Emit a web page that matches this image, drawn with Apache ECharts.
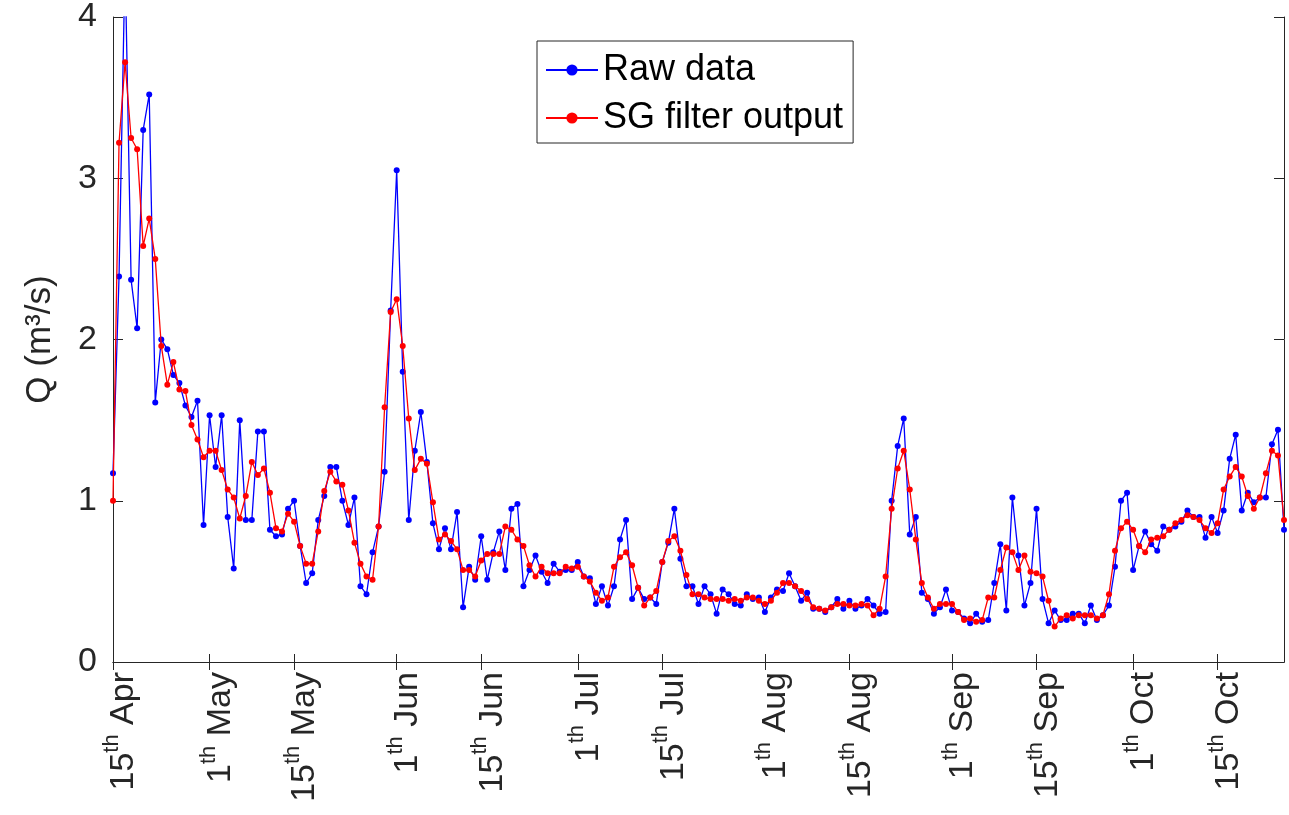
<!DOCTYPE html>
<html>
<head>
<meta charset="utf-8">
<script src="https://cdn.jsdelivr.net/npm/echarts@6/dist/echarts.min.js"></script>
<style>
html,body{margin:0;padding:0;background:#fff;}
#chart{width:1289px;height:815px;}
</style>
</head>
<body>
<div id="chart"></div>
<script>
// Daily series, day 0 = 15th April
const rawData = [
 1.17,2.39,4.35,2.37,2.07,3.30,3.52,1.61,2.00,1.94,
 1.78,1.73,1.59,1.52,1.62,0.85,1.53,1.21,1.53,0.90,
 0.58,1.50,0.88,0.88,1.43,1.43,0.82,0.78,0.79,0.95,
 1.00,0.72,0.49,0.55,0.88,1.03,1.21,1.21,1.00,0.85,
 1.02,0.47,0.42,0.68,0.84,1.18,2.18,3.05,1.80,0.88,
 1.31,1.55,1.24,0.86,0.70,0.83,0.70,0.93,0.34,0.59,
 0.51,0.78,0.51,0.68,0.81,0.57,0.95,0.98,0.47,0.57,
 0.66,0.56,0.49,0.61,0.56,0.57,0.57,0.62,0.53,0.52,
 0.36,0.47,0.35,0.47,0.76,0.88,0.39,0.46,0.39,0.40,
 0.36,0.62,0.74,0.95,0.64,0.47,0.47,0.36,0.47,0.42,
 0.30,0.45,0.42,0.36,0.35,0.42,0.39,0.40,0.31,0.40,
 0.45,0.44,0.55,0.47,0.38,0.43,0.33,0.33,0.31,0.34,
 0.39,0.33,0.38,0.33,0.35,0.39,0.35,0.30,0.31,1.00,
 1.34,1.51,0.79,0.90,0.43,0.39,0.30,0.34,0.45,0.32,
 0.31,0.27,0.24,0.30,0.25,0.26,0.49,0.73,0.32,1.02,
 0.66,0.35,0.49,0.95,0.39,0.24,0.32,0.26,0.26,0.30,
 0.30,0.24,0.35,0.26,0.29,0.35,0.59,1.00,1.05,0.57,
 0.72,0.81,0.73,0.69,0.84,0.82,0.84,0.87,0.94,0.90,
 0.90,0.77,0.90,0.80,0.94,1.26,1.41,0.94,1.05,0.99,
 1.02,1.02,1.35,1.44,0.82
];
const sgData = [
 1.00,3.22,3.72,3.25,3.18,2.58,2.75,2.50,1.96,1.72,
 1.86,1.69,1.68,1.47,1.38,1.27,1.31,1.31,1.19,1.07,
 1.02,0.89,1.03,1.24,1.16,1.20,1.05,0.83,0.81,0.92,
 0.87,0.72,0.61,0.61,0.81,1.06,1.18,1.12,1.10,0.94,
 0.74,0.61,0.53,0.51,0.84,1.58,2.17,2.25,1.96,1.51,
 1.19,1.26,1.23,0.99,0.76,0.79,0.75,0.70,0.57,0.57,
 0.53,0.63,0.67,0.67,0.67,0.84,0.82,0.76,0.72,0.60,
 0.53,0.59,0.55,0.55,0.55,0.59,0.58,0.59,0.53,0.50,
 0.43,0.38,0.40,0.59,0.65,0.68,0.60,0.46,0.35,0.40,
 0.44,0.62,0.75,0.78,0.69,0.54,0.42,0.42,0.40,0.39,
 0.39,0.39,0.38,0.39,0.38,0.40,0.40,0.38,0.36,0.38,
 0.43,0.49,0.49,0.47,0.44,0.39,0.34,0.33,0.32,0.34,
 0.36,0.36,0.35,0.35,0.36,0.35,0.29,0.33,0.53,0.95,
 1.20,1.31,1.07,0.76,0.49,0.40,0.33,0.36,0.36,0.36,
 0.31,0.26,0.27,0.25,0.26,0.40,0.40,0.57,0.71,0.68,
 0.57,0.66,0.56,0.55,0.53,0.38,0.22,0.27,0.29,0.27,
 0.29,0.29,0.29,0.27,0.29,0.42,0.69,0.83,0.87,0.82,
 0.72,0.68,0.76,0.77,0.78,0.82,0.86,0.88,0.91,0.90,
 0.88,0.83,0.80,0.86,1.07,1.15,1.21,1.15,1.03,0.95,
 1.02,1.17,1.31,1.28,0.88
];
const tickDays   = [0,16,30,47,61,77,91,108,122,139,153,169,183];
const tickNums   = ['15','1','15','1','15','1','15','1','15','1','15','1','15'];
const tickMonths = ['Apr','May','May','Jun','Jun','Jul','Jul','Aug','Aug','Sep','Sep','Oct','Oct'];
const yTicks = [0,1,2,3,4];

const days = rawData.map((_, i) => String(i));
const FONT = "'Liberation Sans', Arial, Helvetica, sans-serif";
const AX = '#262626';
const FS = 34;
const isTick = (idx) => tickDays.indexOf(idx) >= 0;

const chart = echarts.init(document.getElementById('chart'), null, {renderer: 'canvas'});
chart.setOption({
  animation: false,
  backgroundColor: '#ffffff',
  grid: {left: 113, top: 16, width: 1171, height: 646, containLabel: false},
  legend: {
    orient: 'vertical',
    left: 537, top: 41,
    padding: [10, 10, 6, 8],
    itemWidth: 52, itemHeight: 14, itemGap: 10,
    backgroundColor: '#ffffff',
    borderColor: AX, borderWidth: 1, borderRadius: 0,
    textStyle: {fontFamily: FONT, fontSize: 36, color: '#000', lineHeight: 38},
    data: ['Raw data', 'SG filter output']
  },
  xAxis: [{
    type: 'category', data: days, boundaryGap: false,
    axisLine: {show: true, lineStyle: {color: AX, width: 1}},
    axisTick: {show: true, inside: true, length: 8, interval: (i) => isTick(i), lineStyle: {color: AX}},
    axisLabel: {
      show: true, rotate: 90, margin: 10, interval: (i) => isTick(i),
      padding: [16, 0, 0, 0],
      formatter: (v) => {
        const k = tickDays.indexOf(Number(v));
        if (k < 0) return '';
        return '{n|' + tickNums[k] + '}{s|th}{n| ' + tickMonths[k] + '}';
      },
      rich: {
        n: {fontFamily: FONT, fontSize: FS, color: AX, lineHeight: 40, verticalAlign: 'bottom'},
        s: {fontFamily: FONT, fontSize: 22, color: AX, lineHeight: 40, verticalAlign: 'top'}
      }
    },
    splitLine: {show: false}
  }, {
    type: 'category', data: days, boundaryGap: false, position: 'top',
    axisLine: {show: true, lineStyle: {color: AX, width: 1}},
    axisTick: {show: true, inside: true, length: 8, interval: (i) => isTick(i), lineStyle: {color: AX}},
    axisLabel: {show: false},
    splitLine: {show: false}
  }],
  yAxis: [{
    type: 'value', min: yTicks[0], max: yTicks[yTicks.length - 1], interval: 1,
    name: 'Q (m³/s)', nameLocation: 'middle', nameRotate: 90, nameGap: 55,
    nameTextStyle: {fontFamily: FONT, fontSize: 35, color: AX},
    axisLine: {show: true, lineStyle: {color: AX, width: 1}},
    axisTick: {show: true, inside: true, length: 10, lineStyle: {color: AX}},
    axisLabel: {fontFamily: FONT, fontSize: FS, color: AX, margin: 16},
    splitLine: {show: false}
  }, {
    type: 'value', min: yTicks[0], max: yTicks[yTicks.length - 1], interval: 1, position: 'right',
    axisLine: {show: true, lineStyle: {color: AX, width: 1}},
    axisTick: {show: true, inside: true, length: 10, lineStyle: {color: AX}},
    axisLabel: {show: false},
    splitLine: {show: false}
  }],
  series: [{
    name: 'Raw data', type: 'line', data: rawData,
    xAxisIndex: 0, yAxisIndex: 0,
    symbol: 'circle', symbolSize: 6, showAllSymbol: true,
    itemStyle: {color: '#0000ff'},
    lineStyle: {color: '#0000ff', width: 1.3},
    clip: true, z: 2
  }, {
    name: 'SG filter output', type: 'line', data: sgData,
    xAxisIndex: 0, yAxisIndex: 0,
    symbol: 'circle', symbolSize: 6, showAllSymbol: true,
    itemStyle: {color: '#ff0000'},
    lineStyle: {color: '#ff0000', width: 1.3},
    clip: true, z: 3
  }]
});
</script>
</body>
</html>
